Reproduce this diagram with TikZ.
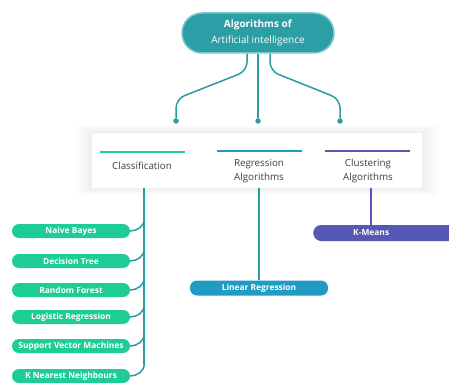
\documentclass[tikz,border=0pt]{standalone}
\usepackage{fontspec}
\setmainfont{Open Sans}
\definecolor{trunk}{RGB}{42,154,164}
\definecolor{topfill}{RGB}{44,158,166}
\definecolor{topedge}{RGB}{125,198,203}
\definecolor{classgreen}{RGB}{30,204,150}
\definecolor{regblue}{RGB}{32,156,196}
\definecolor{clustpurple}{RGB}{86,88,182}
\definecolor{labelgrey}{RGB}{62,62,62}
\begin{document}
\begin{tikzpicture}[x=1pt,y=1pt,
title/.style={
% The shape:
rectangle,
rounded corners=20pt,
minimum width=152pt,
minimum height=40pt,
fill=topfill,
draw=topedge,
line width=1.5pt,
text=white,
align=center,
font=\fontsize{10}{15.5}\selectfont
},
pill/.style={
rectangle,rounded corners=7pt,minimum height=14pt,inner ysep=0pt,
text=white,font=\fontsize{8.4}{9}\selectfont\bfseries
},
leaf/.style={pill,fill=classgreen,minimum width=118pt},
heading/.style={text=labelgrey,align=center,font=\fontsize{9.8}{13.5}\selectfont},
bar/.style={line width=2.2pt},
link/.style={draw=trunk,line width=1.5pt},
dot/.style={circle,fill=trunk,inner sep=0pt,minimum size=5.5pt}
]
\useasboundingbox (0,0) rectangle (449,383);
% top of the tree
\node (root) [title] at (258,350) {\textbf{Algorithms of}\\Artificial intelligence};
\node (dotc) [dot] at (176,262) {};
\node (dotr) [dot] at (258,262) {};
\node (dotk) [dot] at (340,262) {};
\draw [link,rounded corners=9pt] ([xshift=-11pt]root.south) -- (247,312) -- (176,284) -- (dotc);
\draw [link] (root.south) -- (dotr);
\draw [link,rounded corners=9pt] ([xshift=12pt]root.south) -- (270,312) -- (340,284) -- (dotk);
% white band with soft shadow
\foreach \s in {1,...,8}
  \fill [black,opacity=0.007] (92-2*\s,195-\s) rectangle (422+2*\s,250+\s);
\fill [white] (92,195) rectangle (422,250);
\coordinate (panelbot) at (0,195);
\draw [bar,classgreen] (100,231) -- (185,231);
\draw [bar,regblue] (217,232) -- (302,232);
\draw [bar,clustpurple] (325,232) -- (410,232);
\node (class) [heading] at (142,217) {Classification};
\node (regr) [heading] at (259,212) {Regression\\Algorithms};
\node (clust) [heading] at (368,212) {Clustering\\Algorithms};
% classification leaves
\node (nb) [leaf] at (71,152) {Naive Bayes};
\node (dt) [leaf] at (71,122) {Decision Tree};
\node (rf) [leaf] at (71,93) {Random Forest};
\node (lr) [leaf] at (71,66) {Logistic Regression};
\node (svm) [leaf] at (71,37) {Support Vector Machines};
\node (knn) [leaf] at (71,7) {K Nearest Neighbours};
\draw [link] (144,195) -- (144,19);
\foreach \leaf in {nb,dt,rf,lr,svm,knn}
  \draw [link] (\leaf.east) to[out=0,in=-90] ++(14,12);
% regression and clustering
\node (linreg) [pill,fill=regblue,minimum width=138pt,minimum height=15pt] at (259,95) {Linear Regression};
\draw [link] (linreg.north |- panelbot) -- (linreg.north);
\node (kmeans) [pill,fill=clustpurple,minimum width=160pt,minimum height=16pt,rounded corners=8pt,anchor=west] at (313,150) {K-Means\hspace*{44pt}};
\coordinate (kmtop) at (371,158);
\draw [link,draw=clustpurple] (kmtop |- panelbot) -- (kmtop);
\end{tikzpicture}
\end{document}
